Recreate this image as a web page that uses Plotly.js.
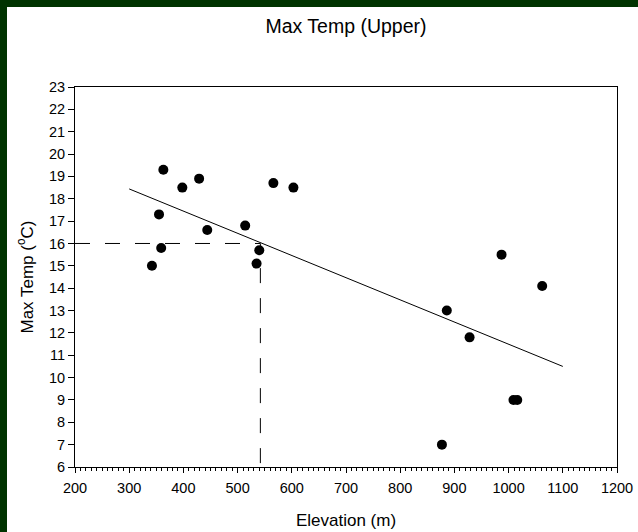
<!DOCTYPE html>
<html>
<head>
<meta charset="utf-8">
<script src="https://cdn.plot.ly/plotly-3.0.1.min.js"></script>
<style>
  html, body { margin: 0; padding: 0; background: #003300; width: 638px; height: 532px; overflow: hidden; }
  #chart { position: absolute; left: 7px; top: 7px; width: 631px; height: 525px; background: #ffffff; }
</style>
</head>
<body>
<div id="chart"></div>
<script>
// Observed data (elevation in m, max temperature in °C)
const elevation = [342, 355, 359, 363, 398, 429, 444, 514, 535, 540, 566, 603, 877, 886, 928, 987, 1009, 1016, 1062];
const maxTemp   = [15.0, 17.3, 15.8, 19.3, 18.5, 18.9, 16.6, 16.8, 15.1, 15.7, 18.7, 18.5, 7.0, 13.0, 11.8, 15.5, 9.0, 9.0, 14.1];

// Fitted trend line end points
const trendX = [300, 1100];
const trendY = [18.44, 10.50];

// Reference guide (dashed): elevation 542 m -> 16 °C
const guideX = [200, 542, 542];
const guideY = [16, 16, 6];

const xTicks = [200, 300, 400, 500, 600, 700, 800, 900, 1000, 1100, 1200];
const yTicks = [6, 7, 8, 9, 10, 11, 12, 13, 14, 15, 16, 17, 18, 19, 20, 21, 22, 23];

const font = 'Arial, "Liberation Sans", sans-serif';

const traces = [
  {
    x: guideX, y: guideY, type: 'scatter', mode: 'lines',
    line: { color: '#000000', width: 1, dash: 'longdash' },
    hoverinfo: 'skip', showlegend: false
  },
  {
    x: trendX, y: trendY, type: 'scatter', mode: 'lines',
    line: { color: '#000000', width: 1 },
    showlegend: false
  },
  {
    x: elevation, y: maxTemp, type: 'scatter', mode: 'markers',
    marker: { color: '#000000', size: 10, symbol: 'circle' },
    showlegend: false
  }
];

const layout = {
  width: 631, height: 525,
  margin: { l: 68, r: 21, t: 80, b: 65 },
  paper_bgcolor: '#ffffff',
  plot_bgcolor: '#ffffff',
  font: { family: font, color: '#000000', size: 14 },
  title: {
    text: 'Max Temp (Upper)',
    font: { family: font, size: 19.5, color: '#000000' },
    x: 0.5, xref: 'paper', xanchor: 'center',
    y: 1 - 19 / 525, yref: 'container', yanchor: 'middle'
  },
  xaxis: {
    range: [200, 1200],
    tickvals: xTicks, ticktext: xTicks.map(String),
    ticks: 'outside', ticklen: 5, tickwidth: 1, tickcolor: '#000000',
    ticklabelstandoff: 3,
    minor: { dtick: 10, ticks: 'outside', ticklen: 3, tickwidth: 1, tickcolor: '#000000', showgrid: false },
    showgrid: false, zeroline: false,
    showline: true, linecolor: '#000000', linewidth: 1, mirror: true,
    tickfont: { family: font, size: 14.5, color: '#000000' },
    title: { text: 'Elevation (m)', font: { family: font, size: 17, color: '#000000' }, standoff: 18 }
  },
  yaxis: {
    range: [6, 23],
    tickvals: yTicks, ticktext: yTicks.map(String),
    ticks: 'outside', ticklen: 6, tickwidth: 1, tickcolor: '#000000',
    showgrid: false, zeroline: false,
    showline: true, linecolor: '#000000', linewidth: 1, mirror: true,
    tickfont: { family: font, size: 14.5, color: '#000000' },
    title: { text: 'Max Temp (<sup>o</sup>C)', font: { family: font, size: 17, color: '#000000' }, standoff: 11 }
  },
  hovermode: false
};

Plotly.newPlot('chart', traces, layout, { displayModeBar: false, staticPlot: true });
</script>
</body>
</html>
